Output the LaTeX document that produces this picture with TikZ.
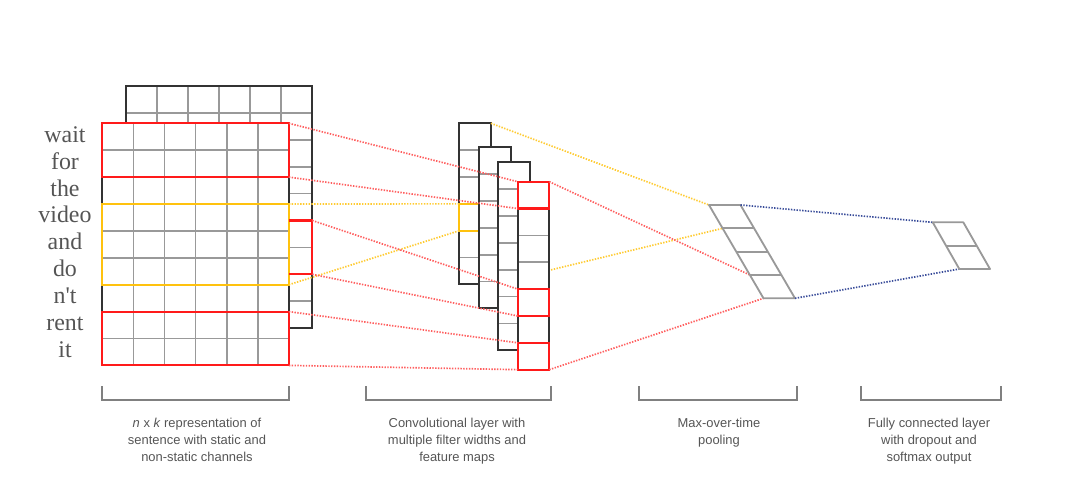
\documentclass[tikz,border=0pt]{standalone}
\usepackage{fontspec}
\setmainfont{Liberation Serif}
\setsansfont{Liberation Sans}
\usepackage{tikz}
\usetikzlibrary{calc}
\definecolor{boxred}{HTML}{FF1A1A}
\definecolor{boxyellow}{HTML}{FFC20E}
\definecolor{dotblue}{HTML}{3A4D9A}
\definecolor{cellgray}{HTML}{999999}
\definecolor{edgegray}{HTML}{333333}
\definecolor{textgray}{HTML}{555555}

\begin{document}
\begin{tikzpicture}[x=0.025cm,y=-0.025cm,
  cellline/.style={cellgray,line width=1.2pt},
  edgeline/.style={edgegray,line width=1.4pt},
  redbox/.style={boxred,line width=1.5pt},
  yellowbox/.style={boxyellow,line width=1.5pt},
  reddots/.style={boxred!70,line width=1.2pt,dash pattern=on 1pt off 1pt},
  yellowdots/.style={boxyellow!85,line width=1.2pt,dash pattern=on 1pt off 1pt},
  bluedots/.style={dotblue,line width=1.2pt,dash pattern=on 1pt off 1pt},
  poolline/.style={cellgray,line width=1.3pt,line join=round},
  bracket/.style={gray,line width=1.2pt},
  word/.style={font=\fontsize{17}{17}\selectfont,text=textgray,anchor=base,inner sep=0pt},
  captext/.style={font=\sffamily\fontsize{9.2}{12}\selectfont,text=textgray,align=center,anchor=north,inner sep=0pt}]
  \useasboundingbox (0,0) rectangle (1080,494);

  % static channel (behind)
  \fill[white] (125.7,86) rectangle (312.3,328.1);
  \foreach \i in {1,...,5} \draw[cellline] ({125.7+31.1*\i},86) -- ++(0,242.1);
  \foreach \j in {1,...,8} \draw[cellline] (125.7,{86+26.9*\j}) -- ++(186.6,0);
  \draw[edgeline] (125.7,86) rectangle (312.3,328.1);

  % non-static channel (front)
  \fill[white] (102.3,123.3) rectangle (288.9,365.4);
  \foreach \i in {1,...,5} \draw[cellline] ({102.3+31.1*\i},123.3) -- ++(0,242.1);
  \foreach \j in {1,...,8} \draw[cellline] (102.3,{123.3+26.9*\j}) -- ++(186.6,0);
  \draw[edgeline] (102.3,123.3) rectangle (288.9,365.4);

  % words
  \foreach \w [count=\k] in {wait,for,the,video,and,do,n\textquotesingle t,rent,it}
    \node[word] (w\k) at (65,{123.3+26.9*(\k-0.5)+5.5}) {\w};

  % filter windows on the input
  \coordinate (r1-ne) at (288.9,123.3);
  \coordinate (r1-se) at (288.9,177.1);
  \coordinate (y-ne) at (288.9,204.0);
  \coordinate (y-se) at (288.9,284.7);
  \coordinate (r2-ne) at (288.9,311.6);
  \coordinate (r2-se) at (288.9,365.4);
  \coordinate (rb-ne) at (312.3,220.5);
  \coordinate (rb-se) at (312.3,274.3);
  \draw[redbox] (102.3,123.3) rectangle (r1-se);
  \draw[yellowbox] (102.3,204.0) rectangle (y-se);
  \draw[redbox] (102.3,311.6) rectangle (r2-se);
  \draw[redbox] (288.9,220.5) -- (rb-ne) -- (rb-se) -- (288.9,274.3);

  % pooling and output corners
  \coordinate (p-nw) at (709,205);
  \coordinate (p-ne) at (740.5,205);
  \coordinate (p-se) at (795,298.3);
  \coordinate (p-sw) at (763.5,298.3);
  \coordinate (p-l1) at ($(p-nw)!0.25!(p-sw)$);
  \coordinate (p-l3) at ($(p-nw)!0.75!(p-sw)$);
  \coordinate (f-nw) at (932.7,222.3);
  \coordinate (f-ne) at (963.3,222.3);
  \coordinate (f-se) at (990,269);
  \coordinate (f-sw) at (959.3,269);

  % feature maps
  \foreach \mx/\my/\mn [count=\m] in {459.3/123.3/6,479.3/147.3/6,498.3/162.3/7,517.7/181.7/7} {
    \pgfmathsetmacro\mb{\my+26.85*\mn}
    \pgfmathtruncatemacro\ml{\mn-1}
    \coordinate (m\m-nw) at (\mx,\my);
    \coordinate (m\m-ne) at (\mx+31.6,\my);
    \coordinate (m\m-se) at (\mx+31.6,\mb);
    \fill[white] (m\m-nw) rectangle (m\m-se);
    \foreach \j in {1,...,\ml} \draw[cellline] (\mx,{\my+26.85*\j}) -- ++(31.6,0);
    \draw[edgeline] (m\m-nw) rectangle (m\m-se);
    \ifnum\m=1
      \coordinate (my-nw) at (459.3,203.85);
      \coordinate (my-sw) at (459.3,230.7);
      \draw[yellowbox] (my-nw) rectangle (491,230.7);
      \draw[yellowdots] (m1-se) -- (p-l1);
    \fi
  }
  \foreach \k in {0,4,6} {
    \coordinate (c\k-nw) at (517.7,{181.7+26.85*\k});
    \coordinate (c\k-sw) at (517.7,{181.7+26.85*(\k+1)});
    \draw[redbox] (c\k-nw) rectangle ++(31.6,26.85);
  }
  \coordinate (c0-ne) at (549.3,181.7);

  % input -> feature maps
  \draw[reddots] (r1-ne) -- (c0-nw);
  \draw[reddots] (r1-se) -- (c0-sw);
  \draw[yellowdots] (y-ne) -- (my-nw);
  \draw[yellowdots] (y-se) -- (my-sw);
  \draw[reddots] (rb-ne) -- (c4-nw);
  \draw[reddots] (rb-se) -- (c4-sw);
  \draw[reddots] (r2-ne) -- (c6-nw);
  \draw[reddots] (r2-se) -- (c6-sw);

  % feature maps -> pooling
  \draw[yellowdots] (m1-ne) -- (p-nw);
  \draw[reddots] (c0-ne) -- (p-l3);
  \draw[reddots] (m4-se) -- (p-sw);

  % pooling layer
  \draw[poolline] (p-nw) -- (p-ne) -- (p-se) -- (p-sw) -- cycle;
  \foreach \f in {0.25,0.5,0.75}
    \draw[poolline] ($(p-nw)!\f!(p-sw)$) -- ($(p-ne)!\f!(p-se)$);

  % pooling -> output
  \draw[bluedots] (p-ne) -- (f-nw);
  \draw[bluedots] (p-se) -- (f-sw);

  % output layer
  \draw[poolline] (f-nw) -- (f-ne) -- (f-se) -- (f-sw) -- cycle;
  \draw[poolline] ($(f-nw)!0.5!(f-sw)$) -- ($(f-ne)!0.5!(f-se)$);

  % brackets and captions
  \draw[bracket] (102,386) |- (289,400) -- (289,386);
  \draw[bracket] (366,386) |- (551,400) -- (551,386);
  \draw[bracket] (639,386) |- (797,400) -- (797,386);
  \draw[bracket] (861,386) |- (1001,400) -- (1001,386);
  \node[captext] (cap1) at (197,418) {\textit{n} x \textit{k} representation of\\sentence with static and\\non-static channels};
  \node[captext] (cap2) at (457,418) {Convolutional layer with\\multiple filter widths and\\feature maps};
  \node[captext] (cap3) at (719,418) {Max-over-time\\pooling};
  \node[captext] (cap4) at (929,418) {Fully connected layer\\with dropout and\\softmax output};
\end{tikzpicture}
\end{document}
